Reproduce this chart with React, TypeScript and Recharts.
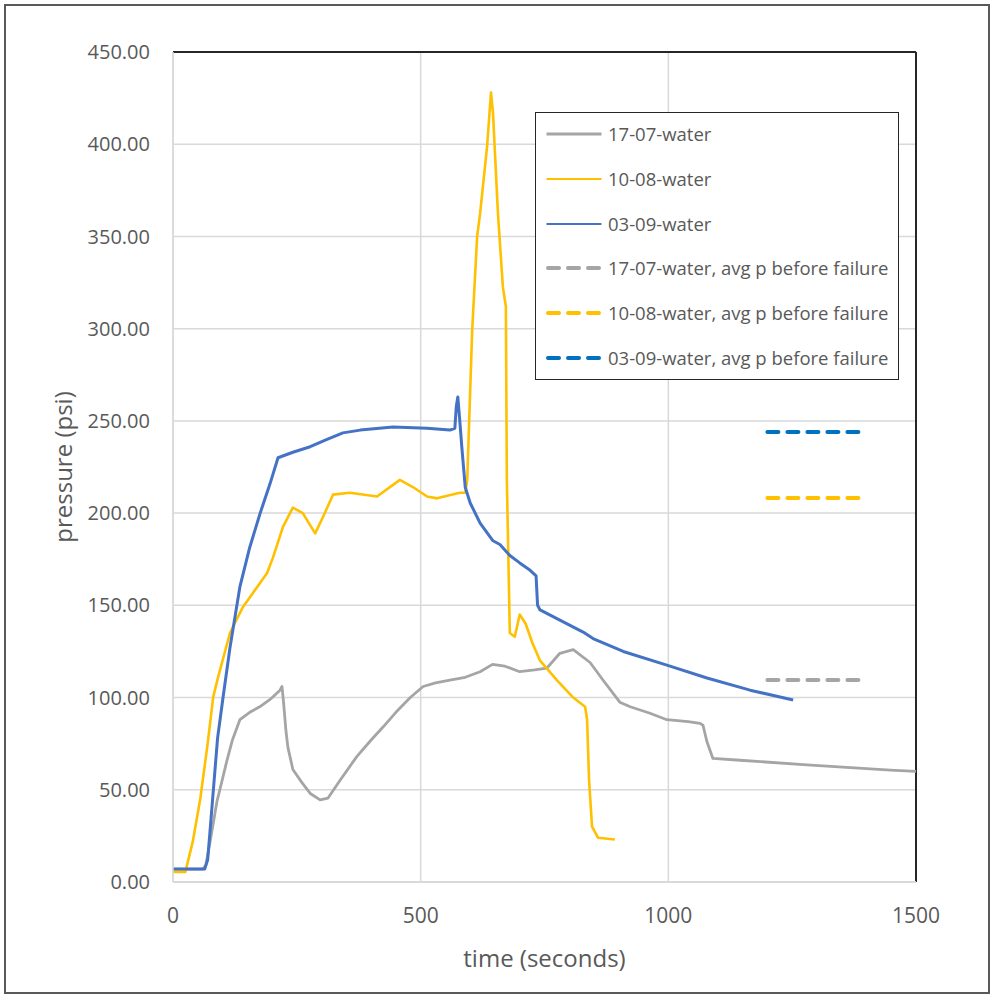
import {
  LineChart,
  Line,
  XAxis,
  YAxis,
  CartesianGrid,
  ReferenceLine,
  Legend,
  Label,
} from "recharts";

const GRAY = "#a5a5a5";
const GOLD = "#ffc000";
const BLUE = "#4472c4";
const DARK_BLUE = "#0070c0";
const TEXT = "#595959";
const GRID = "#d9d9d9";
const FONT = "'Open Sans', sans-serif";

// [time (s), pressure (psi)]
const run1707: [number, number][] = [
  [0, 7], [60, 7], [66, 9], [75, 22], [89, 44], [100, 56], [109, 66],
  [120, 77], [135, 88], [155, 92], [175, 95], [196, 99], [216, 104],
  [220, 106], [223, 98], [228, 82], [232, 73], [242, 61], [260, 54], [277, 48],
  [297, 44.5], [313, 45.5], [337, 55], [371, 68], [400, 77], [424, 84],
  [450, 92], [479, 100], [505, 106], [530, 108], [559, 109.5], [590, 111],
  [620, 114], [645, 118], [670, 117], [700, 114], [730, 115], [755, 116],
  [781, 124], [808, 126], [842, 119], [868, 109.5], [902, 97.5], [923, 95],
  [963, 91.5], [997, 88], [1040, 87], [1064, 86], [1070, 85], [1078, 76],
  [1090, 67], [1145, 66], [1280, 63.5], [1448, 60.7], [1500, 60],
];

const run1008: [number, number][] = [
  [0, 5.5], [25, 5.5], [40, 22], [55, 45], [70, 75], [81, 100], [90, 110],
  [100, 120], [115, 135], [141, 149], [170, 160], [190, 167.5], [202, 176],
  [222, 192.5], [242, 203], [262, 200], [287, 189], [303, 198], [323, 210],
  [357, 211], [412, 209], [458, 218], [485, 214], [513, 209], [533, 208],
  [579, 211], [590, 211], [594, 218], [604, 299], [614, 350], [620, 362.5],
  [634, 398.5], [642, 428], [646, 417], [656, 362.5], [666, 322.5],
  [672, 312], [674, 218], [680, 135], [690, 133], [700, 145], [712, 140],
  [725, 130], [741, 120], [775, 109.5], [808, 100], [832, 95], [836, 88],
  [840, 55], [846, 30], [858, 24], [892, 23],
];

const run0309: [number, number][] = [
  [0, 7], [64, 7], [70, 12], [80, 45], [90, 78], [101, 100], [115, 127],
  [135, 160], [155, 181.5], [176, 200], [196, 216], [212, 230], [242, 233],
  [277, 236], [311, 240], [343, 243.5], [378, 245], [444, 246.7], [513, 246],
  [559, 245], [569, 246], [572, 258], [575, 263], [579, 250], [583, 236],
  [590, 214], [600, 205.5], [620, 194.6], [646, 185], [660, 183], [680, 177],
  [700, 173], [721, 169], [733, 166], [736, 150], [741, 147.5], [781, 142],
  [828, 135.5], [848, 132], [909, 125], [997, 117.6], [1078, 110.6],
  [1165, 104], [1252, 98.7],
];

// average pressure before failure, drawn as short dashed markers
const avgWindow = [1200, 1384];
const avg1707 = 109.5;
const avg1008 = 208.2;
const avg0309 = 244;

const xTicks = [0, 500, 1000, 1500];
const yTicks = [0, 50, 100, 150, 200, 250, 300, 350, 400, 450];

const legendNames = [
  "17-07-water",
  "10-08-water",
  "03-09-water",
  "17-07-water, avg p before failure",
  "10-08-water, avg p before failure",
  "03-09-water, avg p before failure",
];
const legendColors = [GRAY, GOLD, BLUE, GRAY, GOLD, DARK_BLUE];

const toRows = (pts: [number, number][]) => pts.map(([t, p]) => ({ t, p }));
const flatRows = (p: number) => avgWindow.map((t) => ({ t, p }));

function LegendBox() {
  return (
    <div
      style={{
        position: "relative",
        width: 364,
        height: 268,
        boxSizing: "border-box",
        border: "1.5px solid #262626",
        background: "#fff",
        fontFamily: FONT,
        fontSize: 18.5,
        color: TEXT,
      }}
    >
      {legendNames.map((name, i) => {
        const dashed = i >= 3;
        return (
          <div
            key={name}
            style={{
              position: "absolute",
              left: 0,
              top: 21 + i * 44.8 - 13,
              height: 26,
              display: "flex",
              alignItems: "center",
              whiteSpace: "nowrap",
            }}
          >
            <svg width={72} height={26} style={{ display: "block" }}>
              {dashed ? (
                <line
                  x1={12}
                  x2={63}
                  y1={13}
                  y2={13}
                  stroke={legendColors[i]}
                  strokeWidth={4}
                  strokeDasharray="11 9"
                  strokeLinecap="round"
                />
              ) : (
                <line
                  x1={10.5}
                  x2={65.5}
                  y1={13}
                  y2={13}
                  stroke={legendColors[i]}
                  strokeWidth={i === 0 ? 3 : 2}
                />
              )}
            </svg>
            <span style={{ lineHeight: "26px" }}>{name}</span>
          </div>
        );
      })}
    </div>
  );
}

export default function App() {
  return (
    <div
      style={{
        position: "absolute",
        left: 0,
        top: 0,
        width: 991,
        height: 995,
        background: "#fff",
      }}
    >
      <div
        style={{
          position: "absolute",
          left: 4,
          top: 4,
          width: 986,
          height: 990,
          boxSizing: "border-box",
          border: "2px solid #595959",
        }}
      />
      <div style={{ position: "absolute", left: 0, top: 0 }}>
        <LineChart
          width={991}
          height={995}
          margin={{ top: 52, right: 75, bottom: 0, left: 0 }}
        >
          <CartesianGrid stroke={GRID} strokeWidth={1.5} />
          <XAxis
            dataKey="t"
            type="number"
            domain={[0, 1500]}
            ticks={xTicks}
            interval={0}
            height={113}
            tickSize={0}
            tickMargin={26}
            axisLine={{ stroke: GRID, strokeWidth: 2 }}
            tick={{ fill: TEXT, fontSize: 21, fontFamily: FONT }}
          >
            <Label
              content={(props: any) => {
                const vb = props.viewBox ?? { x: 173, y: 882, width: 743 };
                return (
                  <text
                    x={vb.x + vb.width / 2}
                    y={vb.y + 75}
                    textAnchor="middle"
                    dominantBaseline="central"
                    fill={TEXT}
                    fontSize={24}
                    fontFamily={FONT}
                  >
                    time (seconds)
                  </text>
                );
              }}
            />
          </XAxis>
          <YAxis
            type="number"
            domain={[0, 450]}
            ticks={yTicks}
            interval={0}
            width={173}
            tickSize={0}
            tickMargin={23}
            axisLine={{ stroke: GRID, strokeWidth: 1.5 }}
            tick={{ fill: TEXT, fontSize: 20, fontFamily: FONT }}
            tickFormatter={(v: number) => v.toFixed(2)}
          >
            <Label
              content={(props: any) => {
                const vb = props.viewBox ?? { x: 0, y: 52, height: 830 };
                const cx = vb.x + 62;
                const cy = vb.y + vb.height / 2;
                return (
                  <text
                    x={cx}
                    y={cy}
                    transform={`rotate(-90, ${cx}, ${cy})`}
                    textAnchor="middle"
                    dominantBaseline="central"
                    fill={TEXT}
                    fontSize={24}
                    fontFamily={FONT}
                  >
                    pressure (psi)
                  </text>
                );
              }}
            />
          </YAxis>
          <ReferenceLine y={450} stroke="#262626" strokeWidth={2} />
          <ReferenceLine x={1500} stroke="#262626" strokeWidth={2} />
          <Line
            data={toRows(run1707)}
            dataKey="p"
            name="17-07-water"
            type="linear"
            stroke={GRAY}
            strokeWidth={2.8}
            strokeLinejoin="round"
            dot={false}
            isAnimationActive={false}
          />
          <Line
            data={toRows(run1008)}
            dataKey="p"
            name="10-08-water"
            type="linear"
            stroke={GOLD}
            strokeWidth={2.6}
            strokeLinejoin="round"
            dot={false}
            isAnimationActive={false}
          />
          <Line
            data={toRows(run0309)}
            dataKey="p"
            name="03-09-water"
            type="linear"
            stroke={BLUE}
            strokeWidth={3}
            strokeLinejoin="round"
            dot={false}
            isAnimationActive={false}
          />
          <Line
            data={flatRows(avg1707)}
            dataKey="p"
            name="17-07-water, avg p before failure"
            stroke={GRAY}
            strokeWidth={4}
            strokeDasharray="11 9"
            strokeLinecap="round"
            dot={false}
            isAnimationActive={false}
          />
          <Line
            data={flatRows(avg1008)}
            dataKey="p"
            name="10-08-water, avg p before failure"
            stroke={GOLD}
            strokeWidth={4}
            strokeDasharray="11 9"
            strokeLinecap="round"
            dot={false}
            isAnimationActive={false}
          />
          <Line
            data={flatRows(avg0309)}
            dataKey="p"
            name="03-09-water, avg p before failure"
            stroke={DARK_BLUE}
            strokeWidth={4}
            strokeDasharray="11 9"
            strokeLinecap="round"
            dot={false}
            isAnimationActive={false}
          />
          <Legend
            layout="vertical"
            align="center"
            verticalAlign="middle"
            wrapperStyle={{ left: 535, top: 112, width: 364 }}
            content={() => <LegendBox />}
          />
        </LineChart>
      </div>
    </div>
  );
}
